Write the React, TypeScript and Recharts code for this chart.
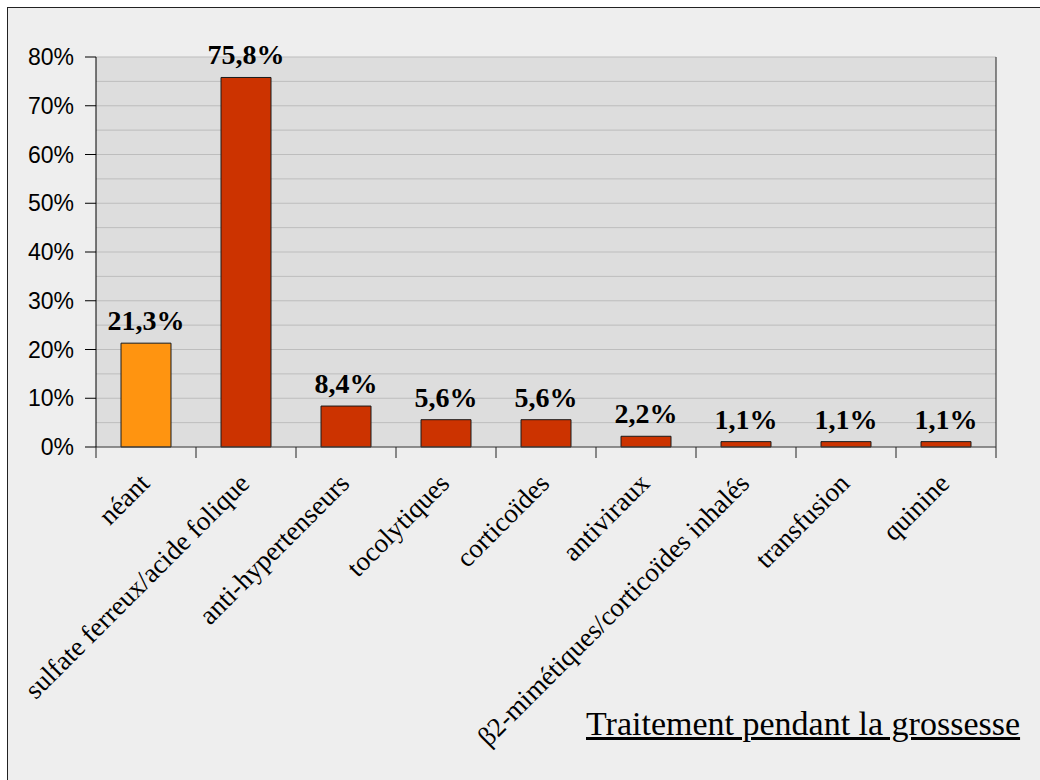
import React from 'react';
import {
  BarChart,
  Bar,
  XAxis,
  YAxis,
  CartesianGrid,
  Cell,
  LabelList,
} from 'recharts';

const categories = [
  'néant',
  'sulfate ferreux/acide folique',
  'anti-hypertenseurs',
  'tocolytiques',
  'corticoïdes',
  'antiviraux',
  'β2-mimétiques/corticoïdes inhalés',
  'transfusion',
  'quinine',
];
const values = [21.3, 75.8, 8.4, 5.6, 5.6, 2.2, 1.1, 1.1, 1.1];
const barColors = ['#FF9410', '#CC3300', '#CC3300', '#CC3300', '#CC3300', '#CC3300', '#CC3300', '#CC3300', '#CC3300'];
const yTicks = [0, 10, 20, 30, 40, 50, 60, 70, 80];
const gridValues = [0, 5, 10, 15, 20, 25, 30, 35, 40, 45, 50, 55, 60, 65, 70, 75, 80];
const title = 'Traitement pendant la grossesse';

const data = categories.map((name, i) => ({ name, value: values[i] }));

const SERIF = '"Liberation Serif", "Times New Roman", serif';
const SANS = '"Liberation Sans", Arial, sans-serif';
const BAND = 900 / categories.length;

// grid rows every 5%, taken from the y axis scale when the library hands it over
const gridRows = ({ yAxis, offset }: any) => {
  const s = yAxis && yAxis.scale;
  if (typeof s === 'function') return gridValues.map((v) => s(v));
  if (s && typeof s.map === 'function') return gridValues.map((v) => s.map(v));
  const max = gridValues[gridValues.length - 1];
  return gridValues.map((v) => offset.top + offset.height * (1 - v / max));
};

const CategoryTick = (props: any) => {
  const { x, y, payload, index, visibleTicksCount } = props;
  const half = BAND / 2;
  const tx = x + 5;
  const ty = y + 38;
  return (
    <g>
      <line x1={x - half} y1={y} x2={x - half} y2={y + 11} stroke="#222" />
      {index === visibleTicksCount - 1 && (
        <line x1={x + half} y1={y} x2={x + half} y2={y + 11} stroke="#222" />
      )}
      <text
        x={tx}
        y={ty}
        transform={`rotate(-45, ${tx}, ${ty})`}
        textAnchor="end"
        fontFamily={SERIF}
        fontSize={27}
        fill="#000"
      >
        {payload.value}
      </text>
    </g>
  );
};

const fmt = (v: any) => Number(v).toFixed(1).replace('.', ',') + '%';

export default function App() {
  return (
    <div style={{ position: 'absolute', left: 0, top: 0, width: 1040, height: 780, background: '#fff', overflow: 'hidden' }}>
      <div
        style={{
          position: 'absolute',
          left: 7,
          top: 7,
          width: 1040,
          height: 780,
          border: '1px solid #222',
          background: '#EEEEEE',
        }}
      />
      <div style={{ position: 'absolute', left: 0, top: 0 }}>
        <BarChart
          width={1040}
          height={780}
          data={data}
          margin={{ top: 57, right: 44, left: 7, bottom: 0 }}
          barCategoryGap="25%"
        >
          <CartesianGrid
            vertical={false}
            fill="#DDDDDD"
            fillOpacity={1}
            stroke="#BDBDBD"
            horizontalCoordinatesGenerator={gridRows}
          />
          <CartesianGrid
            horizontal={false}
            stroke="#222"
            verticalCoordinatesGenerator={({ offset }: any) => [offset.left + offset.width]}
          />
          <XAxis
            dataKey="name"
            interval={0}
            height={333}
            tickSize={0}
            tickMargin={0}
            tickLine={false}
            axisLine={{ stroke: '#444' }}
            tick={<CategoryTick />}
          />
          <YAxis
            width={89}
            domain={[0, 80]}
            ticks={yTicks}
            tickFormatter={(v: number) => v + '%'}
            axisLine={{ stroke: '#000' }}
            tickLine={{ stroke: '#000' }}
            tickSize={11}
            tickMargin={11}
            tick={{ fill: '#000', fontFamily: SANS, fontSize: 23 }}
          />
          <Bar dataKey="value" stroke="#1a1a1a" strokeWidth={1} isAnimationActive={false}>
            {data.map((d, i) => (
              <Cell key={d.name} fill={barColors[i]} />
            ))}
            <LabelList
              dataKey="value"
              position="top"
              offset={13}
              formatter={fmt}
              style={{ fontFamily: SERIF, fontWeight: 'bold', fontSize: 28, fill: '#000' }}
            />
          </Bar>
        </BarChart>
      </div>
      <div
        style={{
          position: 'absolute',
          left: 586,
          top: 707,
          fontFamily: SERIF,
          fontSize: 34,
          lineHeight: '34px',
          textDecoration: 'underline',
          whiteSpace: 'nowrap',
          color: '#000',
        }}
      >
        {title}
      </div>
    </div>
  );
}
